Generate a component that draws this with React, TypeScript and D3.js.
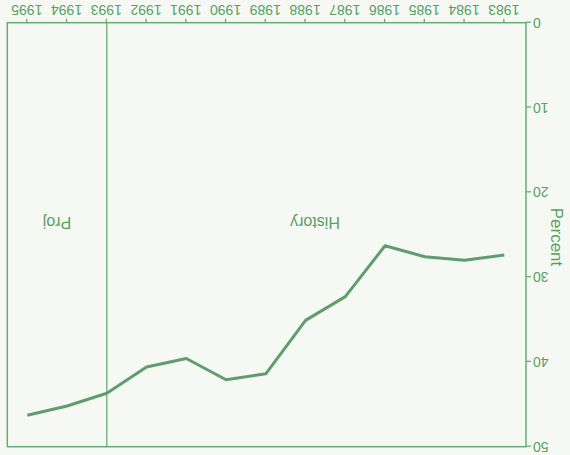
import React, { useEffect, useRef } from 'react'
import * as d3 from 'd3'

const years = [1983, 1984, 1985, 1986, 1987, 1988, 1989, 1990, 1991, 1992, 1993, 1994, 1995]
const percent = [27.4, 28.0, 27.6, 26.3, 32.3, 35.1, 41.4, 42.1, 39.6, 40.6, 43.7, 45.2, 46.3]
const yTicks = [0, 10, 20, 30, 40, 50]
const splitYear = 1993
const periodLabels = ['History', 'Proj']

const W = 570
const H = 455
const FONT = 'Liberation Sans, Arial, Helvetica, sans-serif'

const App = () => {
    const ref = useRef<SVGSVGElement>(null)

    useEffect(() => {
        draw()
    })

    const draw = () => {
        const left = 44
        const right = 562.7
        const top = 8.3
        const bottom = 432.3
        const axisColor = '#6aaa78'
        const textColor = '#56a067'

        const root = d3.select(ref.current)
        root.selectAll('*').remove()

        root.append('rect').attr('width', W).attr('height', H).attr('fill', '#f6f8f3')

        // whole scan is upside down, so draw normally then flip
        const g = root.append('g').attr('transform', `rotate(180 ${W / 2} ${H / 2})`)

        const x = d3.scaleLinear().domain([1983, 1995]).range([65.7, 542.7])
        const y = d3.scaleLinear().domain([0, 50]).range([bottom, top])

        // frame
        g.append('rect')
            .attr('x', left)
            .attr('y', top)
            .attr('width', right - left)
            .attr('height', bottom - top)
            .attr('fill', 'none')
            .attr('stroke', axisColor)
            .attr('stroke-width', 1.5)

        // x axis
        const xAxis = g.append('g')
            .attr('transform', `translate(0,${bottom})`)
            .call(d3.axisBottom(x).tickValues(years).tickFormat(d3.format('d')).tickSize(4).tickPadding(4))
        xAxis.select('.domain').remove()
        xAxis.selectAll('line').attr('stroke', axisColor).attr('stroke-width', 1.3)
        xAxis.selectAll('text')
            .attr('fill', textColor)
            .attr('font-family', FONT)
            .attr('font-size', 14)

        // y axis
        const yAxis = g.append('g')
            .attr('transform', `translate(${left},0)`)
            .call(d3.axisLeft(y).tickValues(yTicks).tickSize(5).tickPadding(2))
        yAxis.select('.domain').remove()
        yAxis.selectAll('line').attr('stroke', axisColor).attr('stroke-width', 1.3)
        yAxis.selectAll('text')
            .attr('fill', textColor)
            .attr('font-family', FONT)
            .attr('font-size', 14)

        g.append('text')
            .attr('transform', `translate(13,218) rotate(-90)`)
            .attr('text-anchor', 'middle')
            .attr('dy', '0.35em')
            .attr('fill', textColor)
            .attr('font-family', FONT)
            .attr('font-size', 17)
            .text('Percent')

        // history / projection divider
        g.append('line')
            .attr('x1', x(splitYear))
            .attr('x2', x(splitYear))
            .attr('y1', top)
            .attr('y2', bottom)
            .attr('stroke', axisColor)
            .attr('stroke-width', 1.3)

        g.append('text')
            .attr('x', 255)
            .attr('y', 232)
            .attr('dy', '0.35em')
            .attr('text-anchor', 'middle')
            .attr('fill', textColor)
            .attr('font-family', FONT)
            .attr('font-size', 16)
            .text(periodLabels[0])

        g.append('text')
            .attr('x', 513)
            .attr('y', 232)
            .attr('dy', '0.35em')
            .attr('text-anchor', 'middle')
            .attr('fill', textColor)
            .attr('font-family', FONT)
            .attr('font-size', 16)
            .text(periodLabels[1])

        const line = d3.line<number>()
            .x((_, i) => x(years[i]))
            .y((d) => y(d))

        g.append('path')
            .datum(percent)
            .attr('d', line)
            .attr('fill', 'none')
            .attr('stroke', '#5e9d6d')
            .attr('stroke-width', 3)
            .attr('stroke-linejoin', 'round')
    }

    return (
        <svg
            ref={ref}
            width={W}
            height={H}
            style={{ position: 'absolute', left: 0, top: 0, display: 'block' }}
        />
    )
}

export default App
